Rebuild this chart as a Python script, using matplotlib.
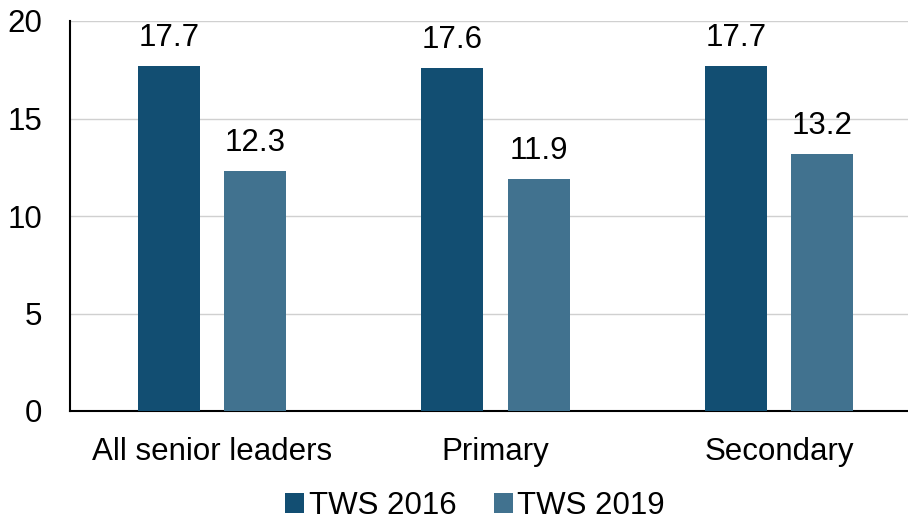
import matplotlib
matplotlib.use("Agg")
import matplotlib.pyplot as plt
import numpy as np

categories = ["All senior leaders", "Primary", "Secondary"]
series_names = ["TWS 2016", "TWS 2019"]
tws2016 = [17.7, 17.6, 17.7]
tws2019 = [12.3, 11.9, 13.2]
colors = ["#124E72", "#41728F"]

plt.rcParams['font.family'] = ['Liberation Sans', 'DejaVu Sans']
FS = 22.5

fig = plt.figure(figsize=(9.08, 5.24), dpi=100)
ax = fig.add_axes([70/908, 1-411/524, 851/908, 390/524])

x = np.arange(len(categories))
w = 0.219
off = 0.152
b1 = ax.bar(x - off, tws2016, w, color=colors[0], label=series_names[0], zorder=3)
b2 = ax.bar(x + off, tws2019, w, color=colors[1], label=series_names[1], zorder=3)
for bars, vals in ((b1, tws2016), (b2, tws2019)):
    for r, v in zip(bars, vals):
        ax.text(r.get_x() + r.get_width()/2, v + 0.65, f"{v:.1f}", ha="center", va="bottom",
                fontsize=FS, color="#000000")

ax.set_xlim(-0.5, 2.5)
ax.set_ylim(0, 20)
ax.set_yticks([0, 5, 10, 15, 20])
ax.set_xticks(x)
ax.set_xticklabels(categories)
ax.tick_params(axis='both', length=0, labelsize=FS, colors="#000000")
ax.tick_params(axis='x', pad=19)
ax.tick_params(axis='y', pad=20)
ax.yaxis.grid(True, color="#D0D0D0", linewidth=1, zorder=0)
ax.set_axisbelow(True)
for s in ["top", "right"]:
    ax.spines[s].set_visible(False)
for s in ["left", "bottom"]:
    ax.spines[s].set_color("#000000")
    ax.spines[s].set_linewidth(1.5)

fig.legend(handles=[b1, b2], labels=series_names, loc="center", bbox_to_anchor=(475/908, 1-506/524),
           ncol=2, frameon=False, fontsize=FS, handlelength=0.6, handleheight=0.6,
           handletextpad=0.15, columnspacing=1.2, borderpad=0, borderaxespad=0)

fig.savefig("out.png", dpi=100)
